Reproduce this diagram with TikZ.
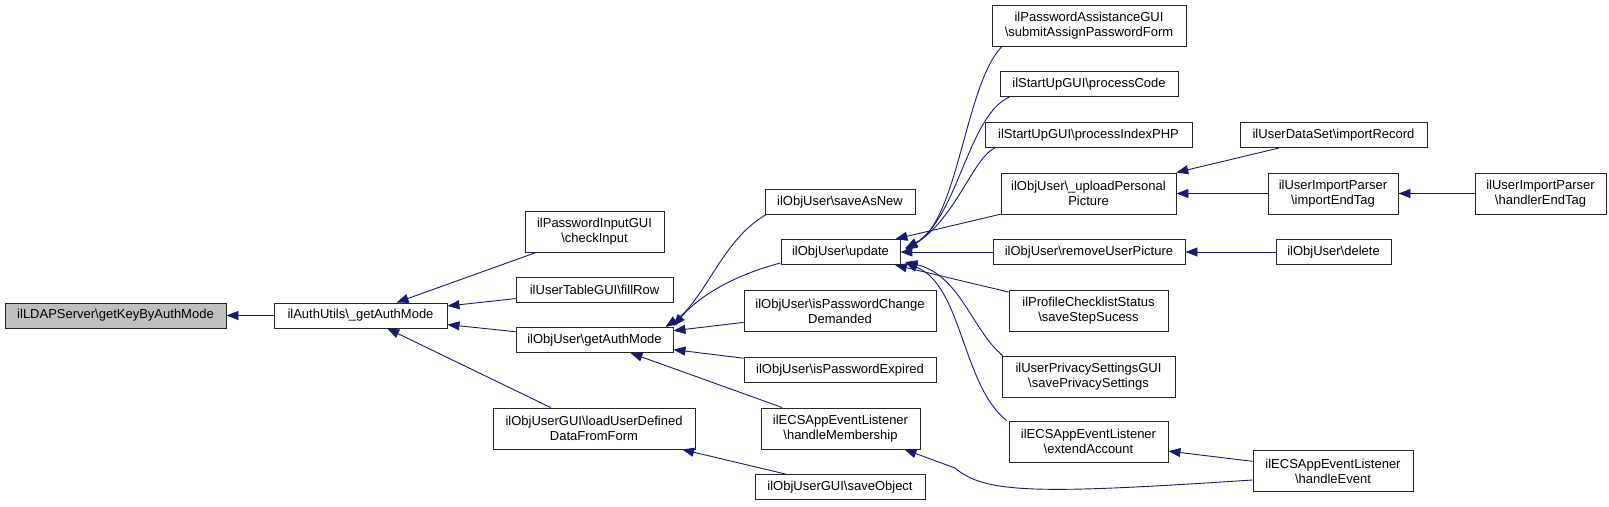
\documentclass[tikz,border=0pt]{standalone}
\usepackage{fontspec}
\setmainfont{Liberation Sans}
\usetikzlibrary{arrows.meta}
\definecolor{edgeblue}{HTML}{191970}
\definecolor{ldapgray}{HTML}{BFBFBF}
\newcommand{\bsl}{\textbackslash}
\begin{document}
\begin{tikzpicture}[x=1pt,y=-1pt,
  cgnode/.style={draw=black!85, fill=white, line width=0.9pt, inner sep=0pt, align=center,
    font=\fontsize{13}{15}\selectfont},
  one/.style={minimum height=25pt},
  two/.style={minimum height=41pt},
  cgedge/.style={draw=edgeblue, line width=0.9pt, -{Triangle[length=12pt,width=9pt]}}]
\useasboundingbox (0,0) rectangle (1609,506);

% column 0/1
\node[cgnode, one, minimum width=221pt, fill=ldapgray] (ldap) at (115.5,315.5) {ilLDAPServer\bsl getKeyByAuthMode};
\node[cgnode, one, minimum width=173pt] (auth) at (360.5,315.5) {ilAuthUtils\bsl\_getAuthMode};
% column 2
\node[cgnode, two, minimum width=139pt] (checkin) at (594.5,231.5) {ilPasswordInputGUI\\\bsl checkInput};
\node[cgnode, one, minimum width=157pt] (fillrow) at (594.5,290) {ilUserTableGUI\bsl fillRow};
\node[cgnode, one, minimum width=157pt] (getauth) at (594.5,340) {ilObjUser\bsl getAuthMode};
\node[cgnode, two, minimum width=202pt] (loadud) at (594,428.5) {ilObjUserGUI\bsl loadUserDefined\\DataFromForm};
% column 3
\node[cgnode, one, minimum width=150pt] (saveasnew) at (840,202) {ilObjUser\bsl saveAsNew};
\node[cgnode, one, minimum width=119pt] (update) at (840.5,252) {ilObjUser\bsl update};
\node[cgnode, two, minimum width=192pt] (ischange) at (840,311) {ilObjUser\bsl isPasswordChange\\Demanded};
\node[cgnode, one, minimum width=192pt] (isexpired) at (840,370) {ilObjUser\bsl isPasswordExpired};
\node[cgnode, two, minimum width=159pt] (handlemem) at (840.5,428.5) {ilECSAppEventListener\\\bsl handleMembership};
\node[cgnode, one, minimum width=170pt] (saveobj) at (840,487) {ilObjUserGUI\bsl saveObject};
% column 4
\node[cgnode, two, minimum width=194pt] (pwassist) at (1089,26) {ilPasswordAssistanceGUI\\\bsl submitAssignPasswordForm};
\node[cgnode, one, minimum width=178pt] (proccode) at (1089,84) {ilStartUpGUI\bsl processCode};
\node[cgnode, one, minimum width=207pt] (procindex) at (1088.5,135) {ilStartUpGUI\bsl processIndexPHP};
\node[cgnode, two, minimum width=175pt] (upload) at (1088.5,193.5) {ilObjUser\bsl\_uploadPersonal\\Picture};
\node[cgnode, one, minimum width=192pt] (remove) at (1089,252) {ilObjUser\bsl removeUserPicture};
\node[cgnode, two, minimum width=159pt] (profile) at (1088.5,311) {ilProfileChecklistStatus\\\bsl saveStepSucess};
\node[cgnode, two, minimum width=173pt] (privacy) at (1088.5,376.5) {ilUserPrivacySettingsGUI\\\bsl savePrivacySettings};
\node[cgnode, two, minimum width=159pt] (extend) at (1088.5,441.5) {ilECSAppEventListener\\\bsl extendAccount};
% column 5/6
\node[cgnode, one, minimum width=187pt] (importrec) at (1333.5,135) {ilUserDataSet\bsl importRecord};
\node[cgnode, two, minimum width=130pt] (importend) at (1333,193.5) {ilUserImportParser\\\bsl importEndTag};
\node[cgnode, two, minimum width=131pt] (handlerend) at (1540.5,193.5) {ilUserImportParser\\\bsl handlerEndTag};
\node[cgnode, one, minimum width=115pt] (delete) at (1333.5,252) {ilObjUser\bsl delete};
\node[cgnode, two, minimum width=160pt] (handleevent) at (1333,471) {ilECSAppEventListener\\\bsl handleEvent};

% edges
\draw[cgedge] (auth) -- (ldap);
\draw[cgedge] (checkin) -- (auth);
\draw[cgedge] (fillrow) -- (auth);
\draw[cgedge] (getauth) -- (auth);
\draw[cgedge] (loadud) -- (auth);

\draw[cgedge] ([xshift=1pt]saveasnew.south west) .. controls (722,240) and (705,300) .. ([xshift=-8pt]getauth.north east);
\draw[cgedge] ([yshift=2pt]update.south west) .. controls (735,275) and (700,295) .. ([xshift=0pt,yshift=1pt]getauth.north east);
\draw[cgedge] (ischange) -- (getauth);
\draw[cgedge] (isexpired) -- (getauth);
\draw[cgedge] (handlemem) -- (getauth);
\draw[cgedge] (saveobj) -- (loadud);
\draw[cgedge] ([yshift=-9pt]handleevent.west) .. controls (1040,494) and (985,494) .. (955,468) -- ([xshift=-16pt]handlemem.south east);

\draw[cgedge] ([xshift=10pt]pwassist.south west) .. controls (965,85) and (958,222) .. ([xshift=5pt,yshift=-9pt]update.north east);
\draw[cgedge] ([xshift=10pt]proccode.south west) .. controls (968,115) and (958,218) .. ([xshift=5pt,yshift=-10pt]update.north east);
\draw[cgedge] ([xshift=10pt]procindex.south west) .. controls (972,160) and (956,218) .. ([xshift=5pt,yshift=-11pt]update.north east);
\draw[cgedge] (upload) -- (update);
\draw[cgedge] (remove) -- (update);
\draw[cgedge] (profile) -- (update);
\draw[cgedge] ([xshift=1pt]privacy.north west) .. controls (972,330) and (960,275) .. ([xshift=5pt,yshift=3pt]update.south east);
\draw[cgedge] ([xshift=-2pt]extend.north west) .. controls (962,385) and (962,285) .. ([xshift=5pt,yshift=2pt]update.south east);

\draw[cgedge] (importrec) -- (upload);
\draw[cgedge] (importend) -- (upload);
\draw[cgedge] (handlerend) -- (importend);
\draw[cgedge] (delete) -- (remove);
\draw[cgedge] (handleevent) -- (extend);
\end{tikzpicture}
\end{document}
